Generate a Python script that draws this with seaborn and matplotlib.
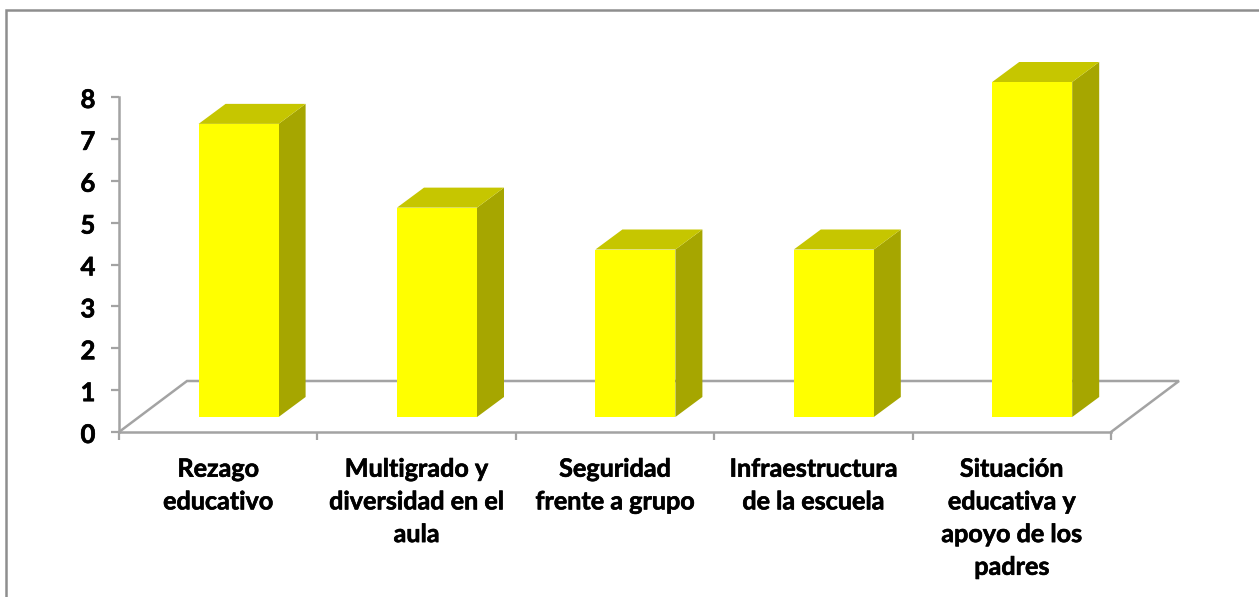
import matplotlib
matplotlib.use("Agg")
import matplotlib.pyplot as plt
import matplotlib.patheffects as pe
import seaborn as sns
from matplotlib.patches import Polygon, Rectangle
from matplotlib.lines import Line2D
from matplotlib.transforms import ScaledTranslation

categories = ["Rezago\neducativo", "Multigrado y\ndiversidad en el\naula",
              "Seguridad\nfrente a grupo", "Infraestructura\nde la escuela",
              "Situación\neducativa y\napoyo de los\npadres"]
values = [7, 5, 4, 4, 8]
y_ticks = [0, 1, 2, 3, 4, 5, 6, 7, 8]

W, H = 1259, 597
GRAY = "#a3a3a3"
TEXT = "#000000"

sns.set_theme(style="white")
plt.rcParams["font.family"] = ["Lato", "DejaVu Sans"]
plt.rcParams["font.weight"] = "bold"

fig = plt.figure(figsize=(W / 100, H / 100), dpi=100, facecolor="white")


def box(x0, y0, x1, y1):
    return [x0 / W, 1 - y1 / H, (x1 - x0) / W, (y1 - y0) / H]


# Outer chart frame (runs off the right and bottom edges)
fig.add_artist(Rectangle((5.5 / W, -0.05), 1.1, 1.05 - 9.5 / H, transform=fig.transFigure,
                         fill=False, edgecolor="#8e8e8e", linewidth=1.8))

# Base axes: value axis, category axis and floor
base = fig.add_axes(box(119, 97, 1111, 432))
base.set_xlim(-0.5, 4.5)
base.set_ylim(0, 8)
base.patch.set_alpha(0)
sns.despine(ax=base, top=True, right=True)
for s in ("left", "bottom"):
    base.spines[s].set_color(GRAY)
    base.spines[s].set_linewidth(1.8)
base.set_yticks(y_ticks)
base.set_yticklabels([str(v) for v in y_ticks], fontsize=18.5, fontweight="bold", color=TEXT)
base.set_xticks([i for i in range(len(categories))])
base.set_xticklabels(categories, fontsize=18.1, fontweight="bold", color=TEXT, linespacing=1.51)
base.set_xticks([i - 0.5 for i in range(len(categories) + 1)], minor=True)
base.tick_params(axis="x", which="major", length=0, bottom=False, pad=18.5)
base.tick_params(axis="x", which="minor", length=6, width=1.6, color=GRAY, bottom=True)
base.tick_params(axis="y", which="major", length=6, width=1.6, color=GRAY, pad=11, left=True)

# Slightly heavier strokes, nudged value labels
nudge = ScaledTranslation(0, -1 / 100, fig.dpi_scale_trans)
for lbl in base.get_yticklabels():
    lbl.set_transform(lbl.get_transform() + nudge)
for lbl in base.get_yticklabels() + base.get_xticklabels():
    lbl.set_path_effects([pe.withStroke(linewidth=0.45, foreground=TEXT)])

# Floor parallelogram
fx = 68 / (992 / 5)
fy = 51 / (335 / 8)
x0, x1 = base.get_xlim()
floor = [(x0, 0), (x0 + fx, fy), (x1 + fx, fy), (x1, 0)]
base.add_line(Line2D(*zip(*floor), color=GRAY, linewidth=1.8, clip_on=False,
                     solid_joinstyle="miter"))

# Bars axes: the same scale, shifted into the depth of the floor
ax = fig.add_axes(box(139.4, 82, 1131.4, 417))
ax.patch.set_alpha(0)
sns.barplot(x=list(range(len(values))), y=values, color="#ffff00", saturation=1,
            width=80 / (992 / 5), ax=ax, zorder=3, edgecolor="none", linewidth=0)
ax.set_xlim(-0.5, 4.5)
ax.set_ylim(0, 8)
ax.axis("off")

dx = 27 / (992 / 5)
dy = 20 / (335 / 8)
for p in ax.patches[:len(values)]:
    l, w, h = p.get_x(), p.get_width(), p.get_height()
    r = l + w
    ax.add_patch(Polygon([(r, 0), (r + dx, dy), (r + dx, h + dy), (r, h)], closed=True,
                         facecolor="#a6a600", edgecolor="none", clip_on=False, zorder=2))
    ax.add_patch(Polygon([(l, h), (l + dx, h + dy), (r + dx, h + dy), (r, h)], closed=True,
                         facecolor="#c6c600", edgecolor="none", clip_on=False, zorder=2))

fig.savefig("out.png", dpi=100, facecolor="white")
